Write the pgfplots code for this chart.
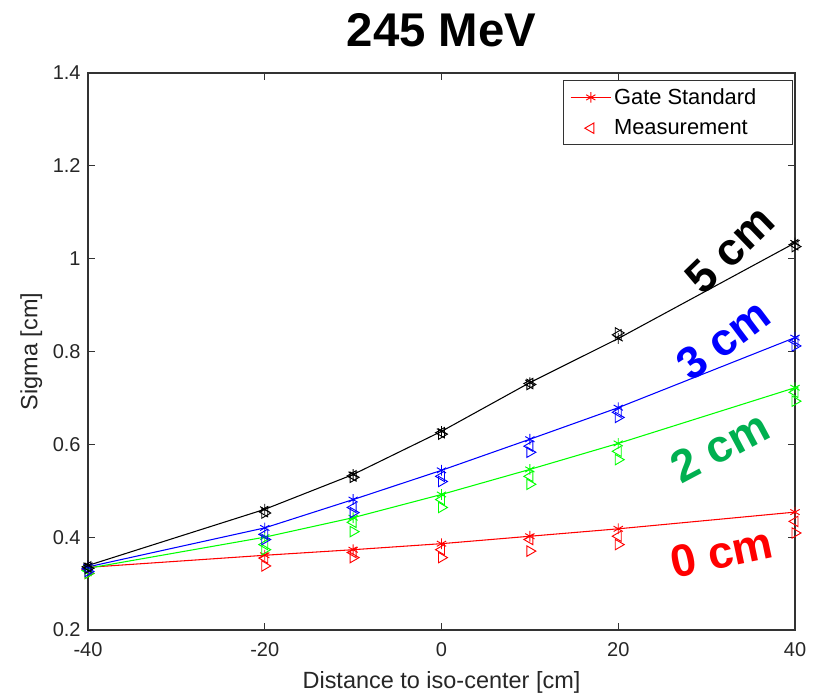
\documentclass[border=0pt]{standalone}
\usepackage{fontspec}
\setmainfont{Liberation Sans}
\usepackage{pgfplots}
\pgfplotsset{compat=1.18}
\definecolor{lblgreen}{RGB}{0,176,80}
\begin{document}
\begin{tikzpicture}
\begin{axis}[
  name=ax,
  scale only axis,
  width=530.25pt, height=417.75pt,
  xmin=-40, xmax=40, ymin=0.2, ymax=1.4,
  xtick={-40,-20,0,20,40},
  ytick={0.2,0.4,0.6,0.8,1,1.2,1.4},
  yticklabels={0.2,0.4,0.6,0.8,1,1.2,1.4},
  tick align=inside,
  major tick length=5pt,
  axis line style={line width=0.9pt, black!80},
  every tick/.style={line width=0.9pt, black!80},
  /pgf/number format/assume math mode=true,
  tick label style={font=\fontsize{15}{18}\selectfont, text=black!85},
  xticklabel style={yshift=-6pt},
  yticklabel style={xshift=-2pt},
  xlabel={Distance to iso-center [cm]},
  ylabel={Sigma [cm]},
  label style={font=\fontsize{17.6}{20}\selectfont, text=black!85},
  xlabel style={yshift=-4pt},
  ylabel style={yshift=1pt},
  title={\bfseries 245 MeV},
  title style={font=\fontsize{35.5}{40}\selectfont, at={(0.5,1)}, anchor=center, yshift=26pt},
  legend style={at={(0.997,0.9875)}, anchor=north east, font=\fontsize{16.4}{19}\selectfont,
    draw=black!80, line width=0.8pt, inner xsep=5pt, inner ysep=4pt, row sep=6pt, cells={anchor=west}},
  legend cell align=left,
]
% red 0 cm
\addplot[red, line width=0.8pt, mark=asterisk, mark size=4pt, mark options={line width=0.7pt},
  legend image code/.code={\draw[mark repeat=2,mark phase=2] plot coordinates {(0cm,0cm) (0.53cm,0cm) (1.06cm,0cm)};}]
 coordinates {(-40,0.335) (-20,0.361) (-10,0.373) (0,0.386) (10,0.402) (20,0.418) (40,0.454)};
\addlegendentry{Gate Standard\hspace*{20pt}}
\addplot[red, only marks, mark=triangle, mark size=4.5pt, mark options={rotate=90, line width=0.7pt},
  legend image code/.code={\draw[only marks] plot coordinates {(0.53cm,0cm)};}]
 coordinates {(-40,0.330) (-20,0.355) (-10,0.367) (0,0.373) (10,0.395) (20,0.402) (40,0.434)};
\addlegendentry{Measurement}
\addplot[red, only marks, mark=triangle, mark size=4.5pt, mark options={rotate=-90, line width=0.7pt}, forget plot]
 coordinates {(-40,0.322) (-20,0.338) (-10,0.356) (0,0.356) (10,0.370) (20,0.384) (40,0.409)};
% green 2 cm
\addplot[green, line width=0.8pt, mark=asterisk, mark size=4pt, mark options={line width=0.7pt}, forget plot]
 coordinates {(-40,0.333) (-20,0.400) (-10,0.442) (0,0.492) (10,0.546) (20,0.602) (40,0.722)};
\addplot[green, only marks, mark=triangle, mark size=4.5pt, mark options={rotate=90, line width=0.7pt}, forget plot]
 coordinates {(-40,0.328) (-20,0.384) (-10,0.432) (0,0.481) (10,0.531) (20,0.585) (40,0.712)};
\addplot[green, only marks, mark=triangle, mark size=4.5pt, mark options={rotate=-90, line width=0.7pt}, forget plot]
 coordinates {(-40,0.322) (-20,0.373) (-10,0.412) (0,0.464) (10,0.514) (20,0.567) (40,0.693)};
% blue 3 cm
\addplot[blue, line width=0.8pt, mark=asterisk, mark size=4pt, mark options={line width=0.7pt}, forget plot]
 coordinates {(-40,0.336) (-20,0.420) (-10,0.481) (0,0.544) (10,0.611) (20,0.679) (40,0.830)};
\addplot[blue, only marks, mark=triangle, mark size=4.5pt, mark options={rotate=90, line width=0.7pt}, forget plot]
 coordinates {(-40,0.332) (-20,0.406) (-10,0.464) (0,0.531) (10,0.596) (20,0.669) (40,0.822)};
\addplot[blue, only marks, mark=triangle, mark size=4.5pt, mark options={rotate=-90, line width=0.7pt}, forget plot]
 coordinates {(-40,0.326) (-20,0.395) (-10,0.453) (0,0.520) (10,0.583) (20,0.658) (40,0.812)};
% black 5 cm
\addplot[black, line width=0.8pt, mark=asterisk, mark size=4pt, mark options={line width=0.7pt}, forget plot]
 coordinates {(-40,0.339) (-20,0.460) (-10,0.535) (0,0.628) (10,0.733) (20,0.828) (40,1.034)};
\addplot[black, only marks, mark=triangle, mark size=4.5pt, mark options={rotate=90, line width=0.7pt}, forget plot]
 coordinates {(-40,0.336) (-20,0.455) (-10,0.532) (0,0.625) (10,0.731) (20,0.836) (40,1.030)};
\addplot[black, only marks, mark=triangle, mark size=4.5pt, mark options={rotate=-90, line width=0.7pt}, forget plot]
 coordinates {(-40,0.333) (-20,0.452) (-10,0.529) (0,0.622) (10,0.729) (20,0.840) (40,1.026)};
% curve labels
\node[font=\fontsize{34}{40}\selectfont\bfseries, text=black, rotate=44] at (axis cs:32.6,1.02) {5 cm};
\node[font=\fontsize{34}{40}\selectfont\bfseries, text=blue, rotate=37] at (axis cs:31.9,0.826) {3 cm};
\node[font=\fontsize{34}{40}\selectfont\bfseries, text=lblgreen, rotate=28] at (axis cs:31.5,0.595) {2 cm};
\node[font=\fontsize{34}{40}\selectfont\bfseries, text=red, rotate=12] at (axis cs:31.7,0.367) {0 cm};
\end{axis}
\pgfresetboundingbox
\path ([shift={(-66pt,-47.25pt)}]ax.south west) rectangle ([shift={(16.5pt,54.75pt)}]ax.north east);
\end{tikzpicture}
\end{document}
